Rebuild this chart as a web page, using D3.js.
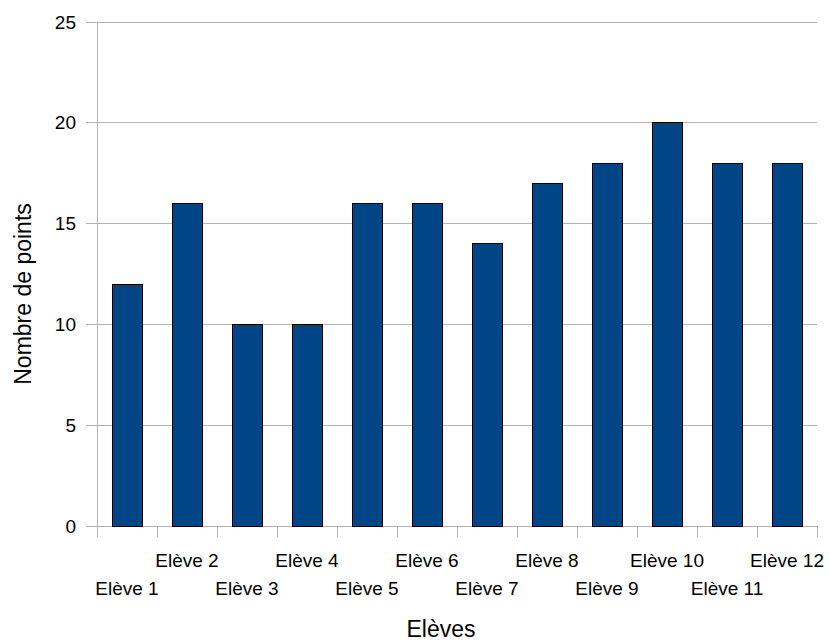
<!DOCTYPE html>
<meta charset="utf-8">
<style>
body { margin: 0; background: #fff; }
text { font-family: "Liberation Sans", Arial, sans-serif; fill: #000; }
.grid line { stroke: #b3b3b3; }
.bar { fill: #004586; stroke: #000; stroke-width: 1; }
</style>
<svg width="830" height="641"></svg>
<script src="https://d3js.org/d3.v7.min.js"></script>
<script>

var categories = ["Elève 1", "Elève 2", "Elève 3", "Elève 4", "Elève 5", "Elève 6",
                  "Elève 7", "Elève 8", "Elève 9", "Elève 10", "Elève 11", "Elève 12"];
var points = [12, 16, 10, 10, 16, 16, 14, 17, 18, 20, 18, 18];
var yTicks = [0, 5, 10, 15, 20, 25];

var svg = d3.select("svg");

var plotLeft = 97, plotRight = 817, plotTop = 21.5, plotBottom = 526;

var x = d3.scaleBand()
    .domain(categories)
    .range([plotLeft, plotRight])
    .paddingInner(0.5)
    .paddingOuter(0.25);

var y = d3.scaleLinear()
    .domain([0, 25])
    .range([plotBottom, plotTop]);

// horizontal grid + y ticks
var grid = svg.append("g").attr("class", "grid");
grid.selectAll("line.h")
  .data(yTicks)
  .enter().append("line")
    .attr("class", "h")
    .attr("x1", plotLeft - 11)
    .attr("x2", plotRight)
    .attr("y1", function(d) { return Math.round(y(d)) + 0.5; })
    .attr("y2", function(d) { return Math.round(y(d)) + 0.5; });

svg.selectAll(".ylab")
  .data(yTicks)
  .enter().append("text")
    .attr("class", "ylab")
    .attr("x", 76)
    .attr("y", function(d) { return y(d) + 7; })
    .attr("text-anchor", "end")
    .style("font-size", "19px")
    .text(function(d) { return d; });

// bars
svg.selectAll(".bar")
  .data(points)
  .enter().append("rect")
    .attr("class", "bar")
    .attr("x", function(d, i) { return Math.round(x(categories[i])) + 0.5; })
    .attr("width", Math.round(x.bandwidth()))
    .attr("y", function(d) { return Math.round(y(d)) + 0.5; })
    .attr("height", function(d) { return Math.round(plotBottom - y(d)); });

// axis lines
grid.append("line")
    .attr("x1", plotLeft + 0.5).attr("x2", plotLeft + 0.5)
    .attr("y1", plotTop).attr("y2", plotBottom + 11);

var step = x.step();
var bounds = d3.range(categories.length + 1).map(function(i) { return plotLeft + i * step; });
grid.selectAll("line.v")
  .data(bounds)
  .enter().append("line")
    .attr("class", "v")
    .attr("x1", function(d) { return Math.round(d) + 0.5; })
    .attr("x2", function(d) { return Math.round(d) + 0.5; })
    .attr("y1", plotBottom)
    .attr("y2", plotBottom + 11);

// category labels, staggered
svg.selectAll(".xlab")
  .data(categories)
  .enter().append("text")
    .attr("class", "xlab")
    .attr("x", function(d) { return x(d) + x.bandwidth() / 2; })
    .attr("y", function(d, i) { return i % 2 ? 567 : 595; })
    .attr("text-anchor", "middle")
    .style("font-size", "19px")
    .text(function(d) { return d; });

// axis titles
svg.append("text")
    .attr("x", 441)
    .attr("y", 637)
    .attr("text-anchor", "middle")
    .style("font-size", "23px")
    .text("Elèves");

svg.append("text")
    .attr("transform", "translate(31,294) rotate(-90)")
    .attr("text-anchor", "middle")
    .style("font-size", "23px")
    .text("Nombre de points");

</script>
